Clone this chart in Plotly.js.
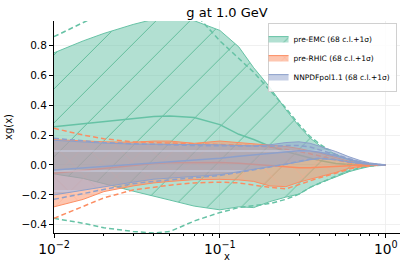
<!DOCTYPE html>
<html>
<head>
<meta charset="utf-8">
<script src="https://cdn.plot.ly/plotly-3.0.1.min.js"></script>
<style>html,body{margin:0;padding:0;background:#fff}#chart{width:407px;height:271px}</style>
</head>
<body>
<div id="chart"></div>
<script>
// x values
const xVals = [0.01, 0.015, 0.02, 0.03, 0.04, 0.05, 0.07, 0.1, 0.13, 0.16, 0.2, 0.25, 0.3, 0.35, 0.4, 0.5, 0.6, 0.7, 0.8, 0.9, 1.0];

// pre-EMC
const emcUp  = [0.75, 0.83, 0.88, 0.94, 0.975, 0.985, 0.965, 0.90, 0.79, 0.65, 0.52, 0.37, 0.26, 0.18, 0.13, 0.07, 0.035, 0.018, 0.008, 0.003, 0];
const emcDn  = [-0.06, -0.09, -0.125, -0.175, -0.21, -0.235, -0.275, -0.30, -0.28, -0.285, -0.245, -0.215, -0.195, -0.15, -0.12, -0.08, -0.045, -0.025, -0.01, -0.003, 0];
const emcC   = [0.256, 0.275, 0.29, 0.312, 0.325, 0.328, 0.318, 0.27, 0.205, 0.17, 0.125, 0.09, 0.065, 0.045, 0.03, 0.01, 0.003, -0.002, -0.002, 0, 0];
const emcUp1 = [0.858, 0.95, 1.02, 1.1, 1.13, 1.12, 1.02, 0.83, 0.71, 0.62, 0.5, 0.38, 0.27, 0.19, 0.14, 0.07, 0.035, 0.015, 0.006, 0.002, 0];
const emcDn1 = [-0.357, -0.39, -0.42, -0.445, -0.455, -0.445, -0.375, -0.318, -0.285, -0.272, -0.258, -0.23, -0.195, -0.15, -0.12, -0.075, -0.04, -0.018, -0.007, -0.002, 0];

// pre-RHIC
const rhicUp  = [0.17, 0.16, 0.155, 0.152, 0.16, 0.16, 0.145, 0.16, 0.15, 0.145, 0.133, 0.124, 0.11, 0.095, 0.08, 0.05, 0.025, 0.012, 0.005, 0.001, 0];
const rhicDn  = [-0.28, -0.23, -0.178, -0.14, -0.12, -0.11, -0.098, -0.096, -0.1, -0.11, -0.14, -0.145, -0.115, -0.095, -0.08, -0.05, -0.022, -0.01, -0.004, -0.001, 0];
const rhicC   = [-0.055, -0.035, -0.02, 0.0, 0.01, 0.015, 0.018, 0.017, 0.012, 0.005, -0.005, -0.015, -0.018, -0.018, -0.016, -0.01, -0.005, -0.001, 0, 0, 0];
const rhicUp1 = [0.245, 0.2, 0.175, 0.155, 0.15, 0.147, 0.143, 0.14, 0.135, 0.13, 0.12, 0.105, 0.09, 0.075, 0.06, 0.035, 0.015, 0.006, 0.002, 0, 0];
const rhicDn1 = [-0.357, -0.28, -0.22, -0.167, -0.148, -0.135, -0.12, -0.115, -0.12, -0.135, -0.15, -0.16, -0.13, -0.105, -0.085, -0.055, -0.028, -0.012, -0.004, -0.001, 0];

// NNPDFpol1.1
const nnUp  = [0.165, 0.152, 0.146, 0.14, 0.14, 0.14, 0.138, 0.135, 0.13, 0.128, 0.135, 0.15, 0.155, 0.145, 0.125, 0.09, 0.055, 0.03, 0.014, 0.005, 0];
const nnDn  = [-0.2, -0.17, -0.145, -0.115, -0.095, -0.087, -0.078, -0.065, -0.045, -0.028, -0.012, 0.005, 0.02, 0.035, 0.042, 0.035, 0.02, 0.01, 0.004, 0.001, 0];
const nnC   = [-0.033, -0.02, -0.01, 0.003, 0.012, 0.018, 0.03, 0.045, 0.058, 0.068, 0.08, 0.09, 0.095, 0.093, 0.085, 0.06, 0.035, 0.018, 0.007, 0.002, 0];
const nnUp1 = [0.178, 0.16, 0.15, 0.142, 0.14, 0.135, 0.13, 0.128, 0.125, 0.123, 0.125, 0.13, 0.13, 0.12, 0.1, 0.07, 0.04, 0.02, 0.008, 0.002, 0];
const nnDn1 = [-0.23, -0.19, -0.16, -0.125, -0.11, -0.1, -0.085, -0.07, -0.05, -0.033, -0.015, 0.005, 0.025, 0.04, 0.045, 0.035, 0.02, 0.01, 0.004, 0.001, 0];

const xLabelAlias = {'1': '10<sup>0</sup>'};

const labels = ['pre-EMC (68 c.l.+1σ)', 'pre-RHIC (68 c.l.+1σ)', 'NNPDFpol1.1 (68 c.l.+1σ)'];
const colors = ['#66c2a5', '#fc8d62', '#8da0cb'];
const fills = ['rgba(102,194,165,0.5)', 'rgba(252,141,98,0.5)', 'rgba(141,160,203,0.5)'];
const hatchShapes = ['/', 'x', '-'];
const hatchColors = ['rgba(90,185,150,0.95)', 'rgba(255,165,135,0.9)', 'rgba(210,218,245,0.95)'];
const hatchSizes = [24, 22, 20];

const sets = [
  [emcUp, emcDn, emcC, emcUp1, emcDn1],
  [rhicUp, rhicDn, rhicC, rhicUp1, rhicDn1],
  [nnUp, nnDn, nnC, nnUp1, nnDn1]
];

const traces = [];
sets.forEach((s, i) => {
  const [up, dn, c, up1, dn1] = s;
  traces.push({
    x: xVals.concat(xVals.slice().reverse()),
    y: up.concat(dn.slice().reverse()),
    type: 'scatter', mode: 'lines', fill: 'toself',
    fillcolor: fills[i],
    fillpattern: {shape: hatchShapes[i], bgcolor: fills[i], fgcolor: hatchColors[i], size: hatchSizes[i], solidity: 0.04},
    line: {color: colors[i], width: 1},
    name: labels[i], hoverinfo: 'skip'
  });
  traces.push({x: xVals, y: c, type: 'scatter', mode: 'lines', line: {color: colors[i], width: 1.5}, showlegend: false});
  traces.push({x: xVals, y: up1, type: 'scatter', mode: 'lines', line: {color: colors[i], width: 1.5, dash: '5px,3px'}, showlegend: false});
  traces.push({x: xVals, y: dn1, type: 'scatter', mode: 'lines', line: {color: colors[i], width: 1.5, dash: '5px,3px'}, showlegend: false});
});

const layout = {
  width: 407, height: 271,
  margin: {l: 54, r: 7, t: 21, b: 38},
  paper_bgcolor: '#fff', plot_bgcolor: '#fff',
  font: {family: 'DejaVu Sans', size: 10, color: '#000'},
  title: {text: 'g at 1.0 GeV', font: {size: 13, family: 'DejaVu Sans', color: '#000'}, x: 0.5, xref: 'paper', y: 0.955, yref: 'container', yanchor: 'middle'},
  xaxis: {
    type: 'log', range: [-2, 0.086], dtick: 1, exponentformat: 'power', labelalias: xLabelAlias,
    showline: true, linecolor: '#000', linewidth: 1, mirror: false,
    ticks: 'outside', ticklen: 4, tickcolor: '#000',
    minor: {ticks: 'outside', ticklen: 2, tickcolor: '#000', showgrid: false},
    showgrid: true, gridcolor: '#ececec', gridwidth: 0.8, zeroline: false,
    tickfont: {size: 11}
  },
  yaxis: {
    range: [-0.455, 0.963], dtick: 0.2, tick0: 0, tickformat: '.1f',
    showline: true, linecolor: '#000', linewidth: 1,
    ticks: 'outside', ticklen: 4, tickcolor: '#000',
    showgrid: true, gridcolor: '#ececec', gridwidth: 0.8, zeroline: false,
    tickfont: {size: 10.5},
    title: {text: 'xg(x)', font: {size: 10}, standoff: 6}
  },
  annotations: [
    {text: 'x', xref: 'paper', yref: 'paper', x: 0.5, y: -0.113, xanchor: 'center', yanchor: 'middle', showarrow: false, font: {size: 10}}
  ],
  legend: {
    x: 0.99, xanchor: 'right', y: 0.99, yanchor: 'top',
    bgcolor: 'rgba(255,255,255,0.85)', bordercolor: '#d0d0d0', borderwidth: 1,
    font: {size: 7.5}, tracegroupgap: 0, itemwidth: 30, indentation: -15
  },
  showlegend: true
};

Plotly.newPlot('chart', traces, layout, {staticPlot: true, displayModeBar: false});
</script>
</body>
</html>
